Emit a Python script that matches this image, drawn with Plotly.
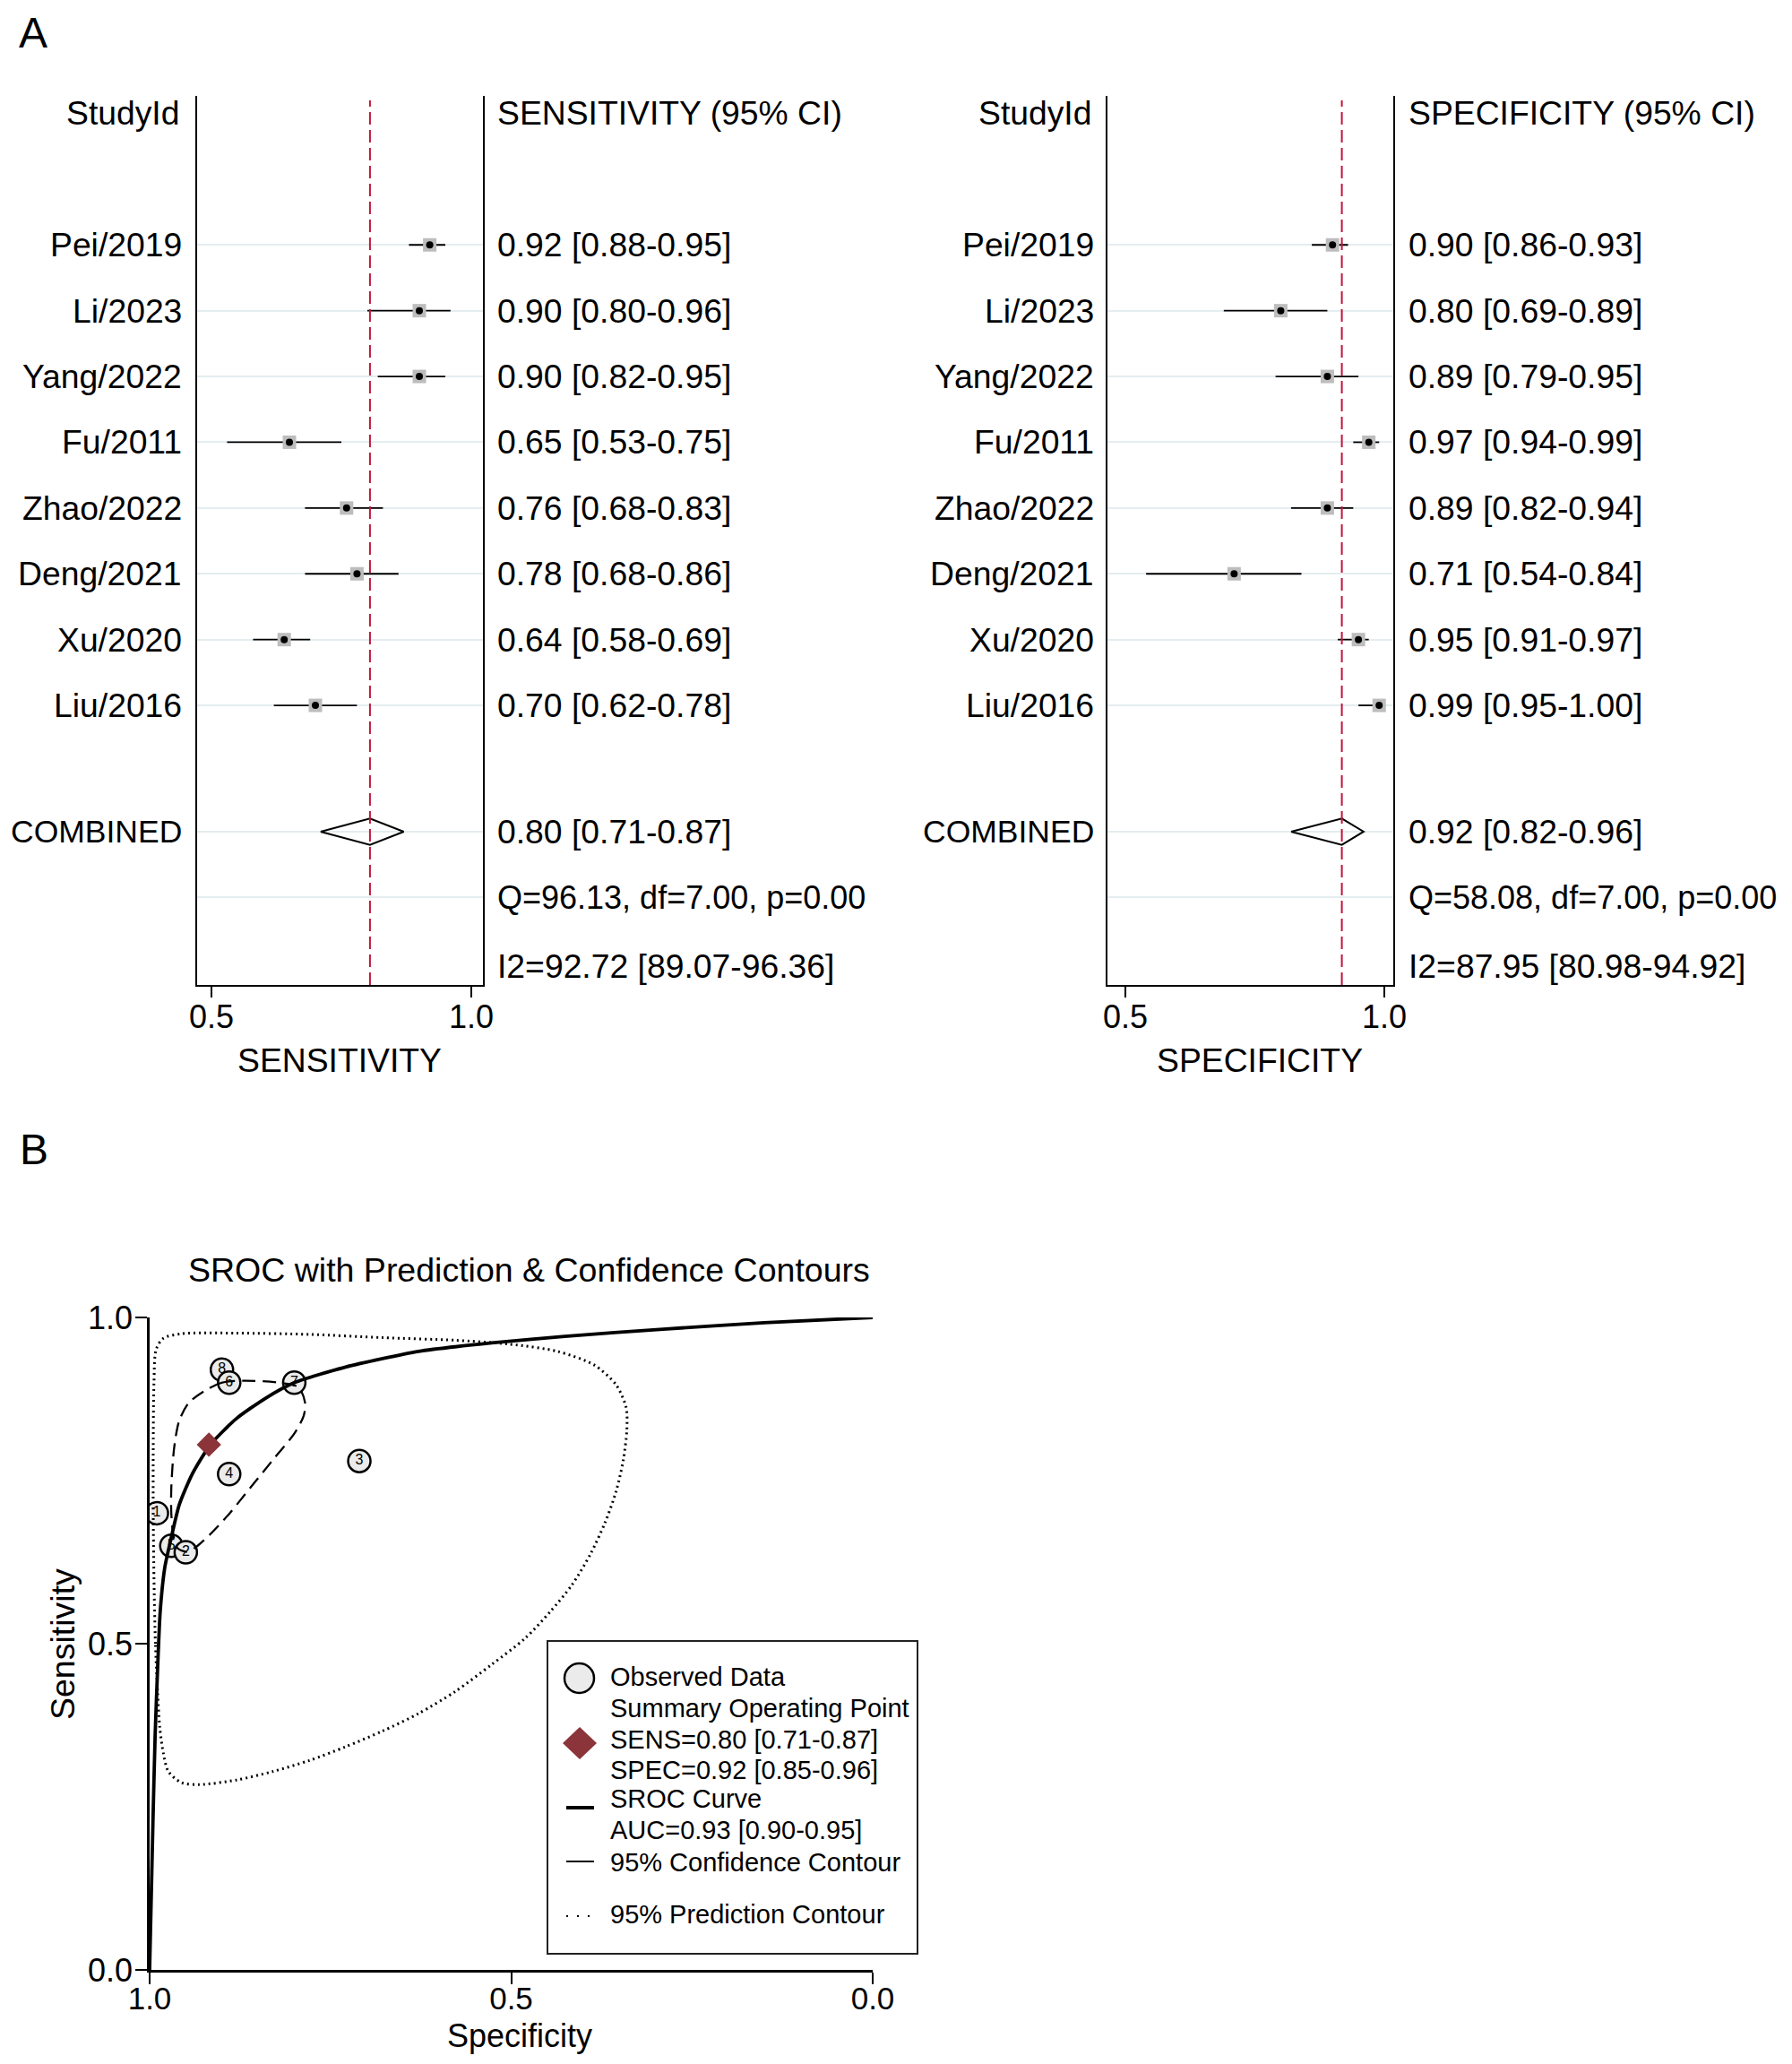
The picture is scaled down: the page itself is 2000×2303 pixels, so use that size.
import plotly.graph_objects as go

# The page body has an 8 px margin, so the figure is drawn 8 px smaller and
# all positions below are given in window pixels (converted by px / py).
VIEW_W, VIEW_H = 2000, 2303
OFF = 8
W, H = VIEW_W - 2 * OFF, VIEW_H - 2 * OFF
FONT = "Liberation Sans, Arial, Helvetica, sans-serif"

# ---------------- data ----------------
studies = ["Pei/2019", "Li/2023", "Yang/2022", "Fu/2011", "Zhao/2022",
           "Deng/2021", "Xu/2020", "Liu/2016"]
study_number = [8, 7, 6, 5, 4, 3, 2, 1]          # labels used in the SROC plot

sens = [0.92, 0.90, 0.90, 0.65, 0.76, 0.78, 0.64, 0.70]
sens_lo = [0.88, 0.80, 0.82, 0.53, 0.68, 0.68, 0.58, 0.62]
sens_hi = [0.95, 0.96, 0.95, 0.75, 0.83, 0.86, 0.69, 0.78]

spec = [0.90, 0.80, 0.89, 0.97, 0.89, 0.71, 0.95, 0.99]
spec_lo = [0.86, 0.69, 0.79, 0.94, 0.82, 0.54, 0.91, 0.95]
spec_hi = [0.93, 0.89, 0.95, 0.99, 0.94, 0.84, 0.97, 1.00]

sens_pooled = [0.805, 0.71, 0.87]     # estimate, lower, upper
spec_pooled = [0.918, 0.82, 0.96]
sens_pooled_text = "0.80 [0.71-0.87]"
spec_pooled_text = "0.92 [0.82-0.96]"
sens_q_text = "Q=96.13, df=7.00, p=0.00"
spec_q_text = "Q=58.08, df=7.00, p=0.00"
sens_i2_text = "I2=92.72 [89.07-96.36]"
spec_i2_text = "I2=87.95 [80.98-94.92]"

forest_ticks = [0.5, 1.0]
forest_ticktext = ["0.5", "1.0"]

# SROC curve (specificity, sensitivity)
sroc_spec = [1.000, 0.9955, 0.9924, 0.989, 0.9854, 0.979, 0.971, 0.959, 0.941,
             0.916, 0.880, 0.840, 0.800, 0.729, 0.628, 0.527, 0.426, 0.290,
             0.150, 0.000]
sroc_sens = [0.000, 0.223, 0.359, 0.461, 0.549, 0.617, 0.658, 0.713, 0.760,
             0.805, 0.845, 0.876, 0.900, 0.924, 0.948, 0.961, 0.971, 0.982,
             0.992, 1.000]

# 95% confidence contour
conf_spec = [0.926, 0.9005, 0.870, 0.820, 0.794, 0.785, 0.787, 0.800, 0.830,
             0.860, 0.890, 0.916, 0.936, 0.948, 0.961, 0.967, 0.970, 0.970,
             0.966, 0.959, 0.946, 0.926]
conf_sens = [0.886, 0.900, 0.903, 0.900, 0.893, 0.869, 0.849, 0.822, 0.781,
             0.740, 0.699, 0.668, 0.648, 0.641, 0.646, 0.665, 0.699, 0.740,
             0.801, 0.842, 0.869, 0.886]

# 95% prediction contour
pred_spec = [0.989, 0.992, 0.994, 0.995, 0.995, 0.994, 0.991, 0.981, 0.956,
             0.880, 0.779, 0.678, 0.577, 0.502, 0.436, 0.385, 0.355, 0.341,
             0.340, 0.345, 0.355, 0.370, 0.390, 0.416, 0.446, 0.481, 0.527,
             0.577, 0.628, 0.678, 0.729, 0.779, 0.830, 0.880, 0.931, 0.956,
             0.974, 0.981, 0.986, 0.989]
pred_sens = [0.427, 0.500, 0.600, 0.700, 0.800, 0.900, 0.951, 0.968, 0.975,
             0.976, 0.974, 0.969, 0.965, 0.959, 0.948, 0.927, 0.897, 0.862,
             0.828, 0.781, 0.733, 0.686, 0.638, 0.590, 0.549, 0.508, 0.468,
             0.427, 0.393, 0.366, 0.342, 0.321, 0.304, 0.291, 0.284, 0.287,
             0.304, 0.332, 0.372, 0.427]

sroc_ticks = [0.0, 0.5, 1.0]
legend_lines = ["Observed Data", "Summary Operating Point",
                "SENS=0.80 [0.71-0.87]", "SPEC=0.92 [0.85-0.96]",
                "SROC Curve", "AUC=0.93 [0.90-0.95]",
                "95% Confidence Contour", "95% Prediction Contour"]

# ---------------- layout helpers ----------------
def px(x):
    return (x - OFF) / W


def py(y):
    return 1 - (y - OFF) / H


rows = list(range(1, len(studies) + 1))
row_head, row_comb, row_q, row_i2 = -1.0, 9.92, 10.92, 11.96
grid_rows = rows + [row_comb, row_q]
DIAMOND_H = 0.2
TXT = 37.3

fig = go.Figure()
annotations = []
shapes = []

panels = [
    dict(xa="x", ya="y", est=sens, lo=sens_lo, hi=sens_hi, pooled=sens_pooled,
         ptext=sens_pooled_text, q=sens_q_text, i2=sens_i2_text,
         head="SENSITIVITY (95% CI)", title="SENSITIVITY",
         lab_r=205, txt_l=553, title_x=379),
    dict(xa="x2", ya="y2", est=spec, lo=spec_lo, hi=spec_hi, pooled=spec_pooled,
         ptext=spec_pooled_text, q=spec_q_text, i2=spec_i2_text,
         head="SPECIFICITY (95% CI)", title="SPECIFICITY",
         lab_r=1223, txt_l=1570, title_x=1406),
]

for p in panels:
    xa, ya = p["xa"], p["ya"]
    cx, cy = [], []
    for r, a, b in zip(rows, p["lo"], p["hi"]):
        cx += [a, b, None]
        cy += [r, r, None]
    fig.add_trace(go.Scatter(x=cx, y=cy, xaxis=xa, yaxis=ya, mode="lines",
                             line=dict(color="black", width=1.8),
                             showlegend=False, hoverinfo="skip"))
    fig.add_trace(go.Scatter(x=p["est"], y=rows, xaxis=xa, yaxis=ya, mode="markers",
                             marker=dict(symbol="square", size=15, color="#bdbdbd"),
                             showlegend=False))
    fig.add_trace(go.Scatter(x=p["est"], y=rows, xaxis=xa, yaxis=ya, mode="markers",
                             marker=dict(symbol="circle", size=8, color="black"),
                             showlegend=False))
    e, l, h = p["pooled"]
    fig.add_trace(go.Scatter(x=[l, e, h, e, l],
                             y=[row_comb, row_comb - DIAMOND_H, row_comb,
                                row_comb + DIAMOND_H, row_comb],
                             xaxis=xa, yaxis=ya, mode="lines",
                             line=dict(color="black", width=2),
                             showlegend=False))
    shapes.append(dict(type="line", xref=xa, yref=f"{ya} domain", x0=e, x1=e,
                       y0=0, y1=0.995, layer="above",
                       line=dict(color="#c0163c", width=2, dash="14px,6px")))

    for r, name in zip(rows, studies):
        annotations.append(dict(x=px(p["lab_r"]), y=r, xref="paper", yref=ya,
                                text=name, xanchor="right", yanchor="middle",
                                showarrow=False, font=dict(size=TXT)))
    for r, e_, a, b in zip(rows, p["est"], p["lo"], p["hi"]):
        annotations.append(dict(x=px(p["txt_l"]), y=r, xref="paper", yref=ya,
                                text=f"{e_:.2f} [{a:.2f}-{b:.2f}]",
                                xanchor="left", yanchor="middle",
                                showarrow=False, font=dict(size=TXT)))
    for r, t, fs in [(row_comb, p["ptext"], TXT), (row_q, p["q"], 36.0),
                     (row_i2, p["i2"], TXT), (row_head, p["head"], TXT)]:
        annotations.append(dict(x=px(p["txt_l"]), y=r, xref="paper", yref=ya,
                                text=t, xanchor="left", yanchor="middle",
                                showarrow=False, font=dict(size=fs)))
    annotations.append(dict(x=px(p["lab_r"] - 3), y=row_head, xref="paper", yref=ya,
                            text="StudyId", xanchor="right", yanchor="middle",
                            showarrow=False, font=dict(size=TXT)))
    annotations.append(dict(x=px(p["lab_r"]), y=row_comb, xref="paper", yref=ya,
                            text="COMBINED", xanchor="right", yanchor="middle",
                            showarrow=False, font=dict(size=35.5)))
    annotations.append(dict(x=px(p["title_x"]), y=py(1183), xref="paper", yref="paper",
                            text=p["title"], xanchor="center", yanchor="middle",
                            showarrow=False, font=dict(size=TXT)))

forest_x = dict(tickvals=forest_ticks, ticktext=forest_ticktext,
                ticks="outside", ticklen=12, tickwidth=1.5, tickcolor="black",
                ticklabelstandoff=-9,
                showline=True, linecolor="black", linewidth=1.5, automargin=False,
                showgrid=False, zeroline=False, tickfont=dict(size=36))
forest_y = dict(domain=[py(1099), py(107)], range=[12.25, -1.265],
                showline=True, mirror=True, linecolor="black", linewidth=1.5,
                tickvals=grid_rows, showticklabels=False, ticks="", automargin=False,
                showgrid=True, gridcolor="#e4edf0", gridwidth=2, zeroline=False)

# ---------------- SROC ----------------
fig.add_trace(go.Scatter(x=spec, y=sens, xaxis="x3", yaxis="y3",
                         mode="markers+text", text=[str(n) for n in study_number],
                         textposition="middle center",
                         textfont=dict(size=16, color="black"),
                         marker=dict(symbol="circle", size=25, color="#ebebeb",
                                     line=dict(color="black", width=2.5)),
                         showlegend=False))
fig.add_trace(go.Scatter(x=pred_spec, y=pred_sens, xaxis="x3", yaxis="y3",
                         mode="lines", line=dict(color="black", width=3,
                                                 dash="2px,4px", shape="spline",
                                                 smoothing=0.8),
                         showlegend=False))
fig.add_trace(go.Scatter(x=conf_spec, y=conf_sens, xaxis="x3", yaxis="y3",
                         mode="lines", line=dict(color="black", width=2.3,
                                                 dash="15px,8px", shape="spline",
                                                 smoothing=0.8),
                         showlegend=False))
fig.add_trace(go.Scatter(x=sroc_spec, y=sroc_sens, xaxis="x3", yaxis="y3",
                         mode="lines", line=dict(color="black", width=3.8,
                                                 shape="spline", smoothing=0.6),
                         showlegend=False, cliponaxis=False))
fig.add_trace(go.Scatter(x=[spec_pooled[0]], y=[sens_pooled[0]], xaxis="x3", yaxis="y3",
                         mode="markers",
                         marker=dict(symbol="diamond", size=21, color="#8b3439"),
                         showlegend=False))

annotations.append(dict(x=px(590), y=py(1417), xref="paper", yref="paper",
                        text="SROC with Prediction & Confidence Contours",
                        showarrow=False, font=dict(size=37.5),
                        xanchor="center", yanchor="middle"))
annotations.append(dict(x=px(580), y=0.0005, xref="paper", yref="paper",
                        text="Specificity", showarrow=False, font=dict(size=36),
                        xanchor="center", yanchor="bottom"))
annotations.append(dict(x=px(70), y=py(1835), xref="paper", yref="paper",
                        text="Sensitivity", showarrow=False, font=dict(size=37.5),
                        textangle=-90, xanchor="center", yanchor="middle"))
annotations.append(dict(x=px(37), y=1.0, xref="paper", yref="paper", text="A",
                        showarrow=False, font=dict(size=48),
                        xanchor="center", yanchor="top"))
annotations.append(dict(x=px(38), y=py(1282), xref="paper", yref="paper", text="B",
                        showarrow=False, font=dict(size=48),
                        xanchor="center", yanchor="middle"))

# legend box (drawn by hand, as in the reference)
shapes.append(dict(type="rect", xref="paper", yref="paper", x0=px(611), x1=px(1024),
                   y0=py(2180), y1=py(1831), line=dict(color="#222222", width=2),
                   fillcolor="rgba(0,0,0,0)"))
shapes.append(dict(type="circle", xref="paper", yref="paper", x0=px(630), x1=px(663),
                   y0=py(1889), y1=py(1856), fillcolor="#ebebeb",
                   line=dict(color="black", width=2.5)))
dcx, dcy = 647, 1945
shapes.append(dict(type="path", xref="paper", yref="paper",
                   path=(f"M {px(dcx - 19)},{py(dcy)} L {px(dcx)},{py(dcy - 18)} "
                         f"L {px(dcx + 19)},{py(dcy)} L {px(dcx)},{py(dcy + 18)} Z"),
                   fillcolor="#8b3439", line=dict(width=0)))
shapes.append(dict(type="line", xref="paper", yref="paper", x0=px(632), x1=px(663),
                   y0=py(2017), y1=py(2017), line=dict(color="black", width=4)))
shapes.append(dict(type="line", xref="paper", yref="paper", x0=px(632), x1=px(663),
                   y0=py(2077), y1=py(2077), line=dict(color="black", width=2)))
shapes.append(dict(type="line", xref="paper", yref="paper", x0=px(632), x1=px(666),
                   y0=py(2138), y1=py(2138),
                   line=dict(color="black", width=2, dash="2px,10px")))
legend_y = [1871, 1906, 1941, 1975, 2007, 2042, 2078, 2136]
for t, yy in zip(legend_lines, legend_y):
    annotations.append(dict(x=px(679), y=py(yy), xref="paper", yref="paper", text=t,
                            showarrow=False, font=dict(size=29),
                            xanchor="left", yanchor="middle"))

sroc_axis = dict(range=[0, 1], tickvals=sroc_ticks, tickformat=".1f",
                 ticks="outside", ticklen=13, tickwidth=2, tickcolor="black",
                 showline=True, linecolor="black", linewidth=2.5, automargin=False,
                 showgrid=False, zeroline=False, tickfont=dict(size=36))

fig.update_layout(
    template="none",
    width=W, height=H, autosize=False,
    margin=dict(l=0, r=0, t=0, b=0, pad=0, autoexpand=False),
    paper_bgcolor="white", plot_bgcolor="white",
    font=dict(family=FONT, color="black", size=36),
    showlegend=False,
    xaxis=dict(forest_x, domain=[px(220), px(539)], anchor="y",
               range=[0.4724, 1.0224]),
    yaxis=dict(forest_y, anchor="x"),
    xaxis2=dict(forest_x, domain=[px(1236), px(1555)], anchor="y2",
                range=[0.4654, 1.0173]),
    yaxis2=dict(forest_y, anchor="x2"),
    xaxis3=dict(sroc_axis, domain=[px(167), px(974)], anchor="y3",
                range=[1, 0], ticklabelstandoff=-14, tickfont=dict(size=35)),
    yaxis3=dict(sroc_axis, domain=[py(2198), py(1470)], anchor="x3",
                ticklabelstandoff=-4),
    annotations=annotations,
    shapes=shapes,
)

fig.write_html("out.html")
